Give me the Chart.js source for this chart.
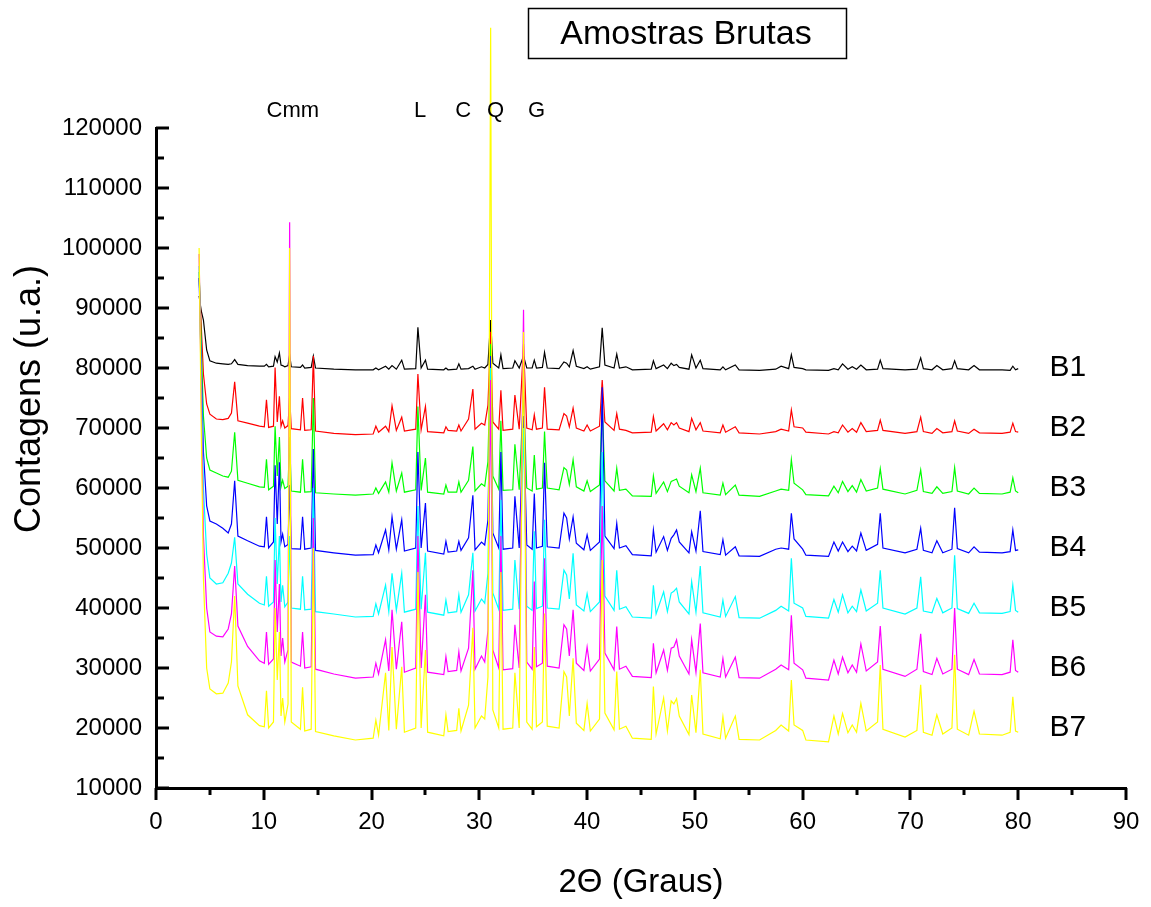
<!DOCTYPE html>
<html>
<head>
<meta charset="utf-8">
<title>Amostras Brutas</title>
<script src="https://cdn.jsdelivr.net/npm/chart.js@4/dist/chart.umd.min.js"></script>
<style>
  html, body { margin: 0; padding: 0; background: #fff; }
  #wrap { width: 1151px; height: 907px; }
</style>
</head>
<body>
<div id="wrap"><canvas id="xrd-chart"></canvas></div>
<script>
// 2θ positions (graus) shared by every pattern
const twoTheta = [
  4.0, 4.2, 4.4, 4.7, 5.0, 5.6, 6.2, 6.7, 7.0, 7.3,
  7.6, 8.5, 9.6, 10.05, 10.25, 10.45, 10.9, 11.05, 11.25, 11.45,
  11.6, 11.75, 11.95, 12.25, 12.4, 12.55, 13.4, 13.6, 13.8, 14.4,
  14.6, 14.8, 16.5, 18.5, 20.15, 20.4, 20.65, 21.3, 21.6, 21.9,
  22.3, 22.8, 23.05, 24.1, 24.3, 24.6, 25.0, 25.2, 26.7, 26.9,
  27.1, 27.9, 28.1, 28.3, 29.0, 29.4, 29.6, 30.2, 30.5, 30.8,
  31.05, 31.25, 31.8, 32.0, 32.2, 33.1, 33.3, 33.7, 34.1, 34.4,
  34.9, 35.1, 35.3, 35.85, 36.05, 36.3, 37.4, 37.85, 38.1, 38.35,
  38.7, 39.0, 39.7, 40.0, 40.3, 41.15, 41.4, 41.65, 42.5, 42.75,
  43.0, 43.6, 44.2, 45.95, 46.15, 46.4, 47.1, 47.45, 47.8, 48.05,
  48.3, 48.55, 49.45, 49.7, 50.1, 50.5, 50.75, 52.35, 52.6, 52.85,
  53.75, 54.1, 56.0, 57.5, 58.0, 58.7, 58.95, 59.2, 60.0, 60.3,
  62.4, 62.9, 63.3, 63.7, 64.2, 64.6, 65.0, 65.4, 65.9, 66.95,
  67.2, 67.45, 69.5, 70.6, 70.95, 71.2, 72.0, 72.45, 73.0, 73.85,
  74.1, 74.35, 75.4, 75.9, 76.4, 78.5, 79.25, 79.5, 79.75, 80.0,
]

// contagens de cada amostra (já deslocadas como no gráfico original)
const b1 = [
  92000, 89500, 88000, 83000, 81200, 80800, 80700, 80600, 80700, 81400,
  80600, 80400, 80300, 80300, 80600, 80200, 80300, 81900, 81000, 82500,
  80500, 80400, 80200, 80400, 82200, 80200, 80100, 80500, 80000, 80100,
  82000, 80000, 79800, 79700, 79700, 80000, 79700, 80300, 79800, 80400,
  79800, 81300, 79800, 79900, 86800, 80000, 81300, 79800, 79700, 80000,
  79700, 79800, 80700, 79800, 79900, 80300, 79800, 80200, 80000, 80600,
  88000, 80800, 80000, 82200, 79900, 80000, 81200, 80000, 82000, 80000,
  80000, 81300, 80000, 80100, 82600, 80000, 79900, 81000, 80800, 80200,
  82900, 80300, 79900, 80200, 79800, 80200, 86700, 80500, 80000, 82300,
  80000, 80200, 79700, 79800, 81200, 79900, 80500, 79900, 80800, 80400,
  80600, 80100, 79800, 82200, 80000, 81300, 79900, 79700, 80200, 79700,
  80500, 79700, 79600, 79800, 80300, 79900, 82200, 80100, 79900, 79700,
  79600, 79900, 79700, 80700, 79800, 80200, 79800, 80500, 79700, 79800,
  81300, 79900, 79700, 79800, 81700, 79900, 79700, 80400, 79700, 79900,
  81200, 79900, 79700, 80400, 79700, 79700, 79600, 80300, 79700, 79900,
]
const b2 = [
  95000, 87000, 79000, 74000, 72300, 71500, 71400, 71600, 72500, 77700,
  71200, 70800, 70300, 70200, 74700, 70100, 70300, 80100, 71000, 75300,
  70300, 71200, 70000, 70400, 75300, 69900, 69700, 75000, 69600, 69700,
  82000, 69500, 69100, 68900, 69000, 70300, 69300, 70300, 69400, 73700,
  69600, 71800, 69500, 69800, 79000, 69700, 73600, 69400, 69200, 70200,
  69600, 69500, 70500, 69500, 71500, 76500, 69800, 70800, 70500, 73800,
  86000, 71000, 69800, 76300, 69600, 69800, 75500, 69800, 84000, 70000,
  69700, 72200, 69800, 70000, 76800, 69800, 69700, 72400, 72000, 70200,
  73300, 70000, 69500, 70500, 69500, 70300, 78000, 71000, 69600, 72400,
  69800, 69600, 69200, 69300, 71900, 69500, 70700, 69700, 70900, 70500,
  70900, 70000, 69400, 71600, 69700, 70900, 69500, 69200, 70500, 69300,
  70200, 69200, 69000, 69400, 69800, 69500, 73000, 70200, 70000, 69300,
  69000, 69400, 69200, 70500, 69300, 69900, 69300, 70900, 69400, 69600,
  71300, 69600, 69100, 69400, 71800, 69400, 69100, 69900, 69200, 69400,
  71200, 69500, 69100, 69800, 69200, 69100, 69300, 70800, 69400, 69300,
]
const b3 = [
  96000, 84000, 72000, 65000, 63000, 62500, 62000, 61800, 62800, 69300,
  61300, 60800, 60200, 60100, 64800, 59700, 60300, 70300, 62000, 68500,
  60200, 61300, 59900, 60300, 68500, 59500, 59300, 64800, 59300, 59400,
  75000, 59200, 59000, 58800, 59000, 60000, 59100, 61000, 59300, 64200,
  59500, 62500, 59300, 59700, 73600, 59600, 65000, 59300, 59000, 60500,
  59300, 59300, 61000, 59300, 61300, 66900, 59500, 60700, 60300, 64400,
  84000, 62000, 59800, 71200, 59600, 59700, 67300, 59700, 76000, 60000,
  59500, 65500, 59800, 60000, 69400, 60000, 59700, 63400, 63000, 60600,
  64700, 60200, 59500, 61200, 59400, 60500, 74000, 61200, 59500, 63300,
  59600, 59800, 58700, 58600, 62000, 59100, 61000, 59400, 61100, 61300,
  61500, 60300, 59200, 62200, 59400, 63300, 59200, 58800, 60800, 58900,
  60500, 58800, 58600, 59500, 59800, 59600, 64700, 60800, 59700, 58900,
  58700, 60300, 59200, 61100, 59400, 60400, 59300, 61400, 59500, 60000,
  63200, 59800, 59000, 59600, 63000, 59400, 59100, 60200, 59100, 59400,
  63400, 59500, 59000, 60000, 59100, 59000, 59300, 61700, 59500, 59200,
]
const b4 = [
  95000, 80000, 66000, 57000, 54500, 54000, 53300, 52500, 54000, 61200,
  52000, 51200, 50300, 50200, 55200, 50000, 51000, 63800, 54000, 64300,
  51000, 52300, 50200, 50600, 60500, 49900, 49800, 55200, 49800, 50000,
  66500, 49600, 49200, 48800, 48900, 50500, 49200, 53000, 49700, 55200,
  49800, 54700, 49500, 50000, 66000, 50000, 57500, 49500, 49000, 51100,
  49300, 49500, 51100, 49600, 51700, 58800, 49700, 51000, 50500, 54700,
  82000, 52500, 50000, 66000, 49800, 50000, 58600, 50000, 72000, 50500,
  49800, 59100, 50000, 50300, 64200, 50200, 50000, 55800, 55000, 51500,
  55200, 50800, 49700, 52200, 49600, 51000, 76800, 52000, 49900, 54100,
  50000, 50400, 48900, 48700, 53000, 49300, 51900, 49600, 51600, 52200,
  53000, 51000, 49200, 52700, 49500, 56200, 49400, 48900, 51400, 48800,
  50200, 48700, 48600, 49800, 50000, 49800, 55800, 51500, 49800, 48800,
  48600, 51000, 49500, 51000, 49400, 50300, 49500, 52500, 49600, 50600,
  55800, 50000, 49200, 49800, 53300, 49600, 49200, 51200, 49200, 49800,
  56700, 49900, 49200, 50200, 49300, 49200, 49400, 53000, 49600, 49700,
]
const b5 = [
  97000, 78000, 60000, 49000, 45000, 44000, 44200, 45800, 47500, 51800,
  44000, 42300, 40800, 40500, 45300, 40300, 41000, 55000, 44000, 52000,
  41000, 43800, 40200, 41000, 52000, 40000, 39800, 45300, 39700, 39800,
  60000, 39400, 39000, 38500, 38600, 40700, 39000, 43800, 39400, 45800,
  39600, 45800, 39300, 39800, 57000, 39800, 49200, 39300, 38800, 41300,
  39200, 39400, 42200, 39300, 42200, 49200, 39500, 41500, 40800, 45800,
  80000, 42500, 39800, 58000, 39600, 39800, 48000, 39800, 70000, 40300,
  39600, 52800, 39900, 40300, 54700, 40000, 39800, 46300, 45500, 41500,
  49100, 40500, 39500, 42400, 39400, 41000, 66000, 42000, 39600, 46300,
  39800, 40200, 38500, 38300, 43800, 39000, 42700, 39400, 42500, 42800,
  43300, 41000, 39000, 44400, 39300, 47000, 39200, 38500, 41300, 38600,
  41900, 38400, 38300, 39600, 40300, 39500, 48300, 40800, 40000, 38600,
  38300, 41400, 39300, 42200, 39200, 40300, 39400, 43000, 39500, 40800,
  46300, 40000, 39000, 40000, 45200, 39500, 39200, 41600, 39200, 40000,
  48800, 39900, 39100, 40800, 39200, 39100, 39400, 43800, 39600, 39300,
]
const b6 = [
  99000, 75000, 52000, 40000, 36000, 35300, 35200, 36500, 39000, 47000,
  37000, 33600, 31200, 30800, 36000, 30600, 31500, 48000, 36000, 44000,
  32000, 35000, 31000, 33000, 104300, 31000, 30300, 36000, 30000, 30200,
  55000, 29800, 29000, 28300, 28500, 30800, 29000, 34700, 29500, 39700,
  29800, 37700, 29300, 30000, 52000, 30000, 42200, 29300, 28900, 31900,
  29400, 29600, 32700, 29500, 33300, 46300, 29800, 32000, 31000, 36300,
  78000, 33000, 30000, 52000, 29700, 29900, 37200, 30000, 89700, 31000,
  29800, 44400, 30200, 30800, 48300, 30300, 30000, 37200, 36500, 32000,
  39700, 30800, 29600, 33500, 29500, 31500, 57000, 32500, 29700, 36900,
  29800, 30300, 28600, 28400, 34100, 29200, 33000, 29600, 33300, 33500,
  34700, 32000, 29000, 34700, 29300, 37400, 29200, 28500, 31600, 28500,
  31800, 28400, 28300, 29800, 30500, 29700, 38800, 30800, 29700, 28300,
  28000, 31300, 29000, 31800, 29200, 30500, 29300, 34000, 29500, 31000,
  37000, 29800, 28600, 29800, 35700, 29400, 28900, 31600, 29000, 29800,
  40000, 29800, 28900, 31400, 29000, 28900, 29300, 34700, 29600, 29300,
]
const b7 = [
  100000, 70000, 45000, 30000, 26500, 25700, 25800, 27500, 31000, 42000,
  27000, 22200, 20400, 20200, 26200, 20000, 21000, 40000, 28000, 36000,
  22000, 25000, 21000, 24000, 100000, 21000, 19800, 26800, 19500, 19800,
  50000, 19400, 18700, 18000, 18300, 21300, 18800, 29200, 19600, 33500,
  19800, 30200, 19300, 20000, 46000, 20000, 33000, 19300, 18700, 22200,
  19400, 19600, 23300, 19500, 23800, 36700, 20000, 22000, 21500, 28500,
  136700, 23000, 20000, 46000, 19800, 20000, 29200, 20000, 86000, 21000,
  19800, 33500, 20200, 21000, 39100, 20300, 20000, 29400, 28500, 22000,
  31600, 20800, 19600, 24100, 19500, 21500, 48000, 22500, 19700, 29400,
  19800, 20300, 18300, 18100, 26900, 19000, 25000, 19500, 24500, 24000,
  24900, 22000, 18900, 25500, 19200, 29700, 19000, 18200, 21900, 18300,
  22000, 18100, 18000, 19600, 20500, 19500, 28000, 20500, 19600, 18000,
  17700, 22000, 19000, 22400, 19200, 20500, 19300, 24100, 19500, 21000,
  30500, 19800, 18500, 19600, 27200, 19300, 18800, 22200, 19000, 20000,
  32200, 19800, 18800, 22800, 19000, 18800, 19300, 25200, 19500, 19300,
]

const sampleNames = ['B1', 'B2', 'B3', 'B4', 'B5', 'B6', 'B7']
const sampleData = [b1, b2, b3, b4, b5, b6, b7]
const sampleColors = ['#000000', '#ff0000', '#00ff00', '#0000ff', '#00ffff', '#ff00ff', '#ffff00']
// onde ficam os rótulos B1..B7 (2θ, contagens)
const labelX = 82.9
const labelY = [80000, 70000, 60000, 50000, 40000, 30000, 20000]

// fases identificadas
const phaseNames = ['Cmm', 'L', 'C', 'Q', 'G']
const phaseX = [12.7, 24.5, 28.5, 31.5, 35.3]
const phaseY = 122800

const yTicks = [10000, 20000, 30000, 40000, 50000, 60000, 70000, 80000, 90000, 100000, 110000, 120000]
const xTicks = [0, 10, 20, 30, 40, 50, 60, 70, 80, 90]

const FONT = "'Liberation Sans', Arial, Helvetica, sans-serif"
Chart.defaults.font.family = FONT
Chart.defaults.color = '#000'

const datasets = sampleNames.map((name, i) => ({
  label: name,
  data: twoTheta.map((t, k) => ({ x: t, y: sampleData[i][k] })),
  borderColor: sampleColors[i],
  backgroundColor: sampleColors[i],
  borderWidth: 1.2,
  pointRadius: 0,
  tension: 0,
  clip: false,
  order: sampleNames.length - 1 - i, // B7 por cima
}))

// marcas de escala estilo Origin: y para dentro, x para fora
const originTicks = {
  id: 'originTicks',
  afterDraw(chart) {
    const { ctx, scales: { x, y } } = chart
    ctx.save()
    ctx.strokeStyle = '#000'
    ctx.lineWidth = 3
    for (let v = 10000; v <= 120000; v += 5000) {
      const py = Math.round(y.getPixelForValue(v))
      const len = v % 10000 === 0 ? 13 : 8
      ctx.beginPath()
      ctx.moveTo(x.left, py)
      ctx.lineTo(x.left + len, py)
      ctx.stroke()
    }
    for (let v = 0; v <= 90; v += 5) {
      const px = Math.round(x.getPixelForValue(v))
      const len = v % 10 === 0 ? 12 : 7
      ctx.beginPath()
      ctx.moveTo(px, y.bottom)
      ctx.lineTo(px, y.bottom + len)
      ctx.stroke()
    }
    ctx.restore()
  },
}

const annotations = {
  id: 'annotations',
  afterDraw(chart) {
    const { ctx, scales: { x, y } } = chart
    ctx.save()
    ctx.fillStyle = '#000'

    // caixa do título
    ctx.lineWidth = 1.5
    ctx.strokeStyle = '#000'
    ctx.strokeRect(528.5, 8.5, 318, 50)
    ctx.font = `34px ${FONT}`
    ctx.textAlign = 'center'
    ctx.textBaseline = 'middle'
    ctx.fillText('Amostras Brutas', 686, 35)

    // fases
    ctx.font = `22px ${FONT}`
    phaseNames.forEach((p, i) => {
      ctx.fillText(p, x.getPixelForValue(phaseX[i]), y.getPixelForValue(phaseY))
    })

    // nomes das amostras
    ctx.font = `30px ${FONT}`
    ctx.textAlign = 'left'
    sampleNames.forEach((n, i) => {
      ctx.fillText(n, x.getPixelForValue(labelX), y.getPixelForValue(labelY[i]))
    })

    // título do eixo y
    ctx.translate(30, 399)
    ctx.rotate(-Math.PI / 2)
    ctx.textAlign = 'center'
    ctx.font = `36px ${FONT}`
    ctx.fillText('Contagens (u.a.)', 0, 0)
    ctx.restore()
  },
}

new Chart(document.getElementById('xrd-chart'), {
  type: 'line',
  data: { datasets },
  options: {
    responsive: true,
    maintainAspectRatio: false,
    animation: false,
    layout: { padding: { left: 0, right: 25, top: 128, bottom: 0 } },
    plugins: {
      legend: { display: false },
      tooltip: { enabled: false },
    },
    scales: {
      x: {
        type: 'linear',
        min: 0,
        max: 90,
        afterFit: (scale) => {
          scale.height = 119
          scale.paddingLeft = 0
          scale.paddingRight = 0
        },
        afterBuildTicks: (scale) => { scale.ticks = xTicks.map((v) => ({ value: v })) },
        grid: { display: false, drawTicks: false },
        border: { display: true, color: '#000', width: 3 },
        ticks: { font: { size: 24 }, color: '#000', padding: 20, maxRotation: 0, autoSkip: false },
        title: { display: true, text: '2Θ (Graus)', font: { size: 33 }, color: '#000', padding: { top: 0, bottom: 4 } },
      },
      y: {
        type: 'linear',
        min: 10000,
        max: 120000,
        afterFit: (scale) => {
          scale.width = 156
          scale.paddingTop = 0
          scale.paddingBottom = 0
        },
        afterBuildTicks: (scale) => { scale.ticks = yTicks.map((v) => ({ value: v })) },
        grid: { display: false, drawTicks: false },
        border: { display: true, color: '#000', width: 3 },
        ticks: { font: { size: 24 }, color: '#000', padding: 14, callback: (v) => String(v) },
      },
    },
  },
  plugins: [originTicks, annotations],
})
</script>
</body>
</html>
